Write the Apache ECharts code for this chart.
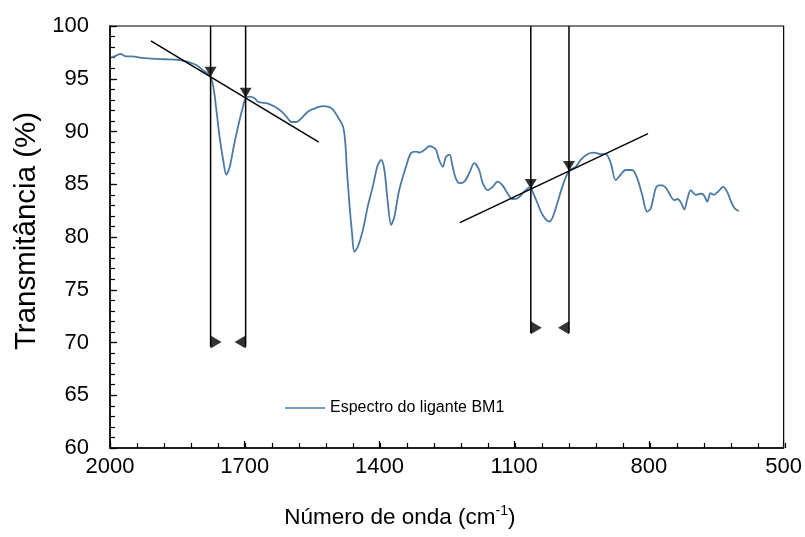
<!DOCTYPE html>
<html>
<head>
<meta charset="utf-8">
<script src="https://cdn.jsdelivr.net/npm/echarts@6/dist/echarts.min.js"></script>
<style>
  html, body { margin: 0; padding: 0; background: #fff; }
  #chart { width: 805px; height: 537px; }
</style>
</head>
<body>
<div id="chart"></div>
<script>
// espectro (número de onda em cm-1, transmitância em %)
var wavenumber = [1997,1986,1976,1967,1945,1934,1908,1878,1849,1827,1808,1793,1778,1770,1763,1756,1748,1741,1733,1726,1715,1704,1698,1689,1678,1670,1648,1633,1618,1607,1596,1585,1574,1559,1544,1526,1515,1504,1493,1481,1476,1473,1467,1461,1456,1448,1437,1426,1415,1404,1396,1389,1382,1374,1367,1356,1341,1330,1318,1311,1300,1289,1282,1274,1267,1259,1252,1244,1237,1230,1222,1211,1200,1189,1178,1170,1159,1148,1137,1126,1115,1104,1093,1081,1070,1063,1059,1048,1037,1022,1015,1004,993,981,974,963,952,937,922,907,896,885,874,863,852,837,826,815,804,796,785,778,770,761,753,744,736,728,721,715,707,696,685,678,670,663,656,644,635,626,617,609,600];
var transmittance = [97.0,97.2,97.35,97.15,97.1,97.0,96.9,96.85,96.8,96.6,96.3,95.8,95.3,94.25,92.0,89.5,87.3,85.9,86.7,88.25,90.45,92.35,93.15,93.3,93.15,92.8,92.65,92.35,91.9,91.4,90.9,90.9,91.25,91.9,92.2,92.4,92.35,92.1,91.4,90.45,88.9,86.7,83.2,80.35,78.6,79.1,80.65,82.9,84.75,86.8,87.3,86.35,83.5,81.15,81.9,84.45,86.65,87.95,88.1,88.0,88.25,88.6,88.55,88.25,87.3,86.65,87.6,87.8,86.65,85.55,85.1,85.25,86.05,87.0,86.35,85.1,84.45,84.75,85.25,84.9,84.15,83.6,83.65,84.15,84.6,84.7,84.3,83.2,82.1,81.45,81.8,83.2,84.75,86.05,86.4,86.65,87.3,87.85,88.0,87.85,87.85,87.0,85.4,85.9,86.35,86.35,85.55,84.0,82.4,82.7,84.6,84.9,84.9,84.6,84.0,83.5,83.6,83.2,82.6,83.5,84.45,84.0,84.1,84.0,83.35,84.15,84.0,84.4,84.75,84.3,83.35,82.7,82.45];

// retas tangentes [número de onda, transmitância]
var tangentA = [[1909, 98.6], [1535, 89.0]];
var tangentB = [[1221, 81.36], [802, 89.8]];

// linhas verticais das bandas
var bandLines = [1776, 1698, 1063, 978];
var bandTops = [95.2, 93.2, 84.55, 86.25];   // ponta das setas de cima
var bandEnds = [69.6, 69.6, 70.9, 70.9];     // fim das linhas
var bandArrowY = [70.05, 70.05, 71.4, 71.4]; // setas de baixo

var xTicks = [500, 800, 1100, 1400, 1700, 2000];
var seriesName = 'Espectro do ligante BM1';

var X0 = 500; // eixo deslocado para começar em 0 (múltiplo do intervalo)
function px(wn) { return wn - X0; }

var font = 'Liberation Sans, Arial, sans-serif';

var spectrum = wavenumber.map(function (w, i) { return [px(w), transmittance[i]]; });

var series = [{
  name: seriesName,
  type: 'line',
  symbol: 'none',
  smooth: 0.3,
  lineStyle: { color: '#4a7aa6', width: 1.8 },
  itemStyle: { color: '#4a7aa6' },
  data: spectrum,
  z: 3
}];

[tangentA, tangentB].forEach(function (t) {
  series.push({
    type: 'line', symbol: 'none', silent: true,
    lineStyle: { color: '#000', width: 1.5 },
    data: t.map(function (p) { return [px(p[0]), p[1]]; }),
    z: 4
  });
});

bandLines.forEach(function (w, i) {
  series.push({
    type: 'line', symbol: 'none', silent: true,
    lineStyle: { color: '#000', width: 1.5 },
    data: [[px(w), 100], [px(w), bandEnds[i]]],
    z: 4
  });
});

// setas de cima (apontando para baixo)
series.push({
  type: 'scatter', silent: true,
  symbol: 'path://M0 0L12 0L6 10Z',
  symbolSize: [12, 10],
  symbolOffset: [0, -5],
  itemStyle: { color: '#000' },
  data: bandLines.map(function (w, i) { return [px(w), bandTops[i]]; }),
  z: 5
});

// setas de baixo: direita na primeira linha de cada par, esquerda na segunda
series.push({
  type: 'scatter', silent: true,
  symbol: 'path://M0 0L11 6.5L0 13Z',
  symbolSize: [11, 13],
  symbolOffset: [5.5, 0],
  itemStyle: { color: '#000' },
  data: [0, 2].map(function (i) { return [px(bandLines[i]), bandArrowY[i]]; }),
  z: 5
});
series.push({
  type: 'scatter', silent: true,
  symbol: 'path://M11 0L0 6.5L11 13Z',
  symbolSize: [11, 13],
  symbolOffset: [-5.5, 0],
  itemStyle: { color: '#000' },
  data: [1, 3].map(function (i) { return [px(bandLines[i]), bandArrowY[i]]; }),
  z: 5
});

var tickStyle = { color: '#000', width: 1.2 };
var gridBox = { left: 110, right: 20, top: 26, bottom: 89 };

var chart = echarts.init(document.getElementById('chart'));
chart.setOption({
  animation: false,
  backgroundColor: '#fff',
  grid: [
    Object.assign({ show: true, borderColor: '#000', borderWidth: 1.2 }, gridBox),
    Object.assign({ show: false }, gridBox)   // só para as marcas menores
  ],
  legend: {
    data: [{ name: seriesName, icon: 'rect' }],
    left: 280, top: 395,
    itemWidth: 40, itemHeight: 1.6,
    itemGap: 4,
    textStyle: { fontFamily: font, fontSize: 16, color: '#000' }
  },
  xAxis: [{
    type: 'value',
    gridIndex: 0,
    inverse: true,
    min: px(xTicks[0]), max: px(xTicks[xTicks.length - 1]),
    interval: 300,
    name: '{a|Número de onda (cm}{s|-1}{a|)}',
    nameLocation: 'middle',
    nameGap: 56,
    nameTextStyle: {
      padding: [0, 94, 0, 0],
      rich: {
        a: { fontFamily: font, fontSize: 22.5, color: '#000', lineHeight: 28 },
        s: { fontFamily: font, fontSize: 14, color: '#000', lineHeight: 28, verticalAlign: 'top', padding: [0, 0, 10, 0] }
      }
    },
    axisLine: { onZero: false, lineStyle: { color: '#000', width: 1.5 } },
    axisTick: { inside: true, length: 7, lineStyle: tickStyle },
    splitLine: { show: false },
    axisLabel: {
      fontFamily: font, fontSize: 22, color: '#000', margin: 8,
      formatter: function (v) { return String(v + X0); }
    },
    z: 5
  }, {
    // marcas menores
    type: 'value',
    gridIndex: 1,
    inverse: true,
    position: 'bottom',
    min: px(xTicks[0]), max: px(xTicks[xTicks.length - 1]),
    interval: 60,
    axisLine: { show: false, onZero: false },
    axisTick: { inside: true, length: 5, lineStyle: tickStyle },
    axisLabel: { show: false },
    splitLine: { show: false }
  }],
  yAxis: [{
    type: 'value',
    gridIndex: 0,
    min: 60, max: 100, interval: 5,
    name: 'Transmitância (%)',
    nameLocation: 'middle',
    nameGap: 66,
    nameTextStyle: { fontFamily: font, fontSize: 29.5, color: '#000', padding: [0, 0, 0, 12] },
    axisLine: { show: true, onZero: false, lineStyle: { color: '#000', width: 1.5 } },
    axisTick: { show: true, inside: true, length: 7, lineStyle: tickStyle },
    splitLine: { show: false },
    axisLabel: { fontFamily: font, fontSize: 22, color: '#000', margin: 21 },
    z: 5
  }, {
    type: 'value',
    gridIndex: 1,
    position: 'left',
    min: 60, max: 100, interval: 1,
    axisLine: { show: false, onZero: false },
    axisTick: { show: true, inside: true, length: 5, lineStyle: tickStyle },
    axisLabel: { show: false },
    splitLine: { show: false }
  }],
  series: series
});
</script>
</body>
</html>
